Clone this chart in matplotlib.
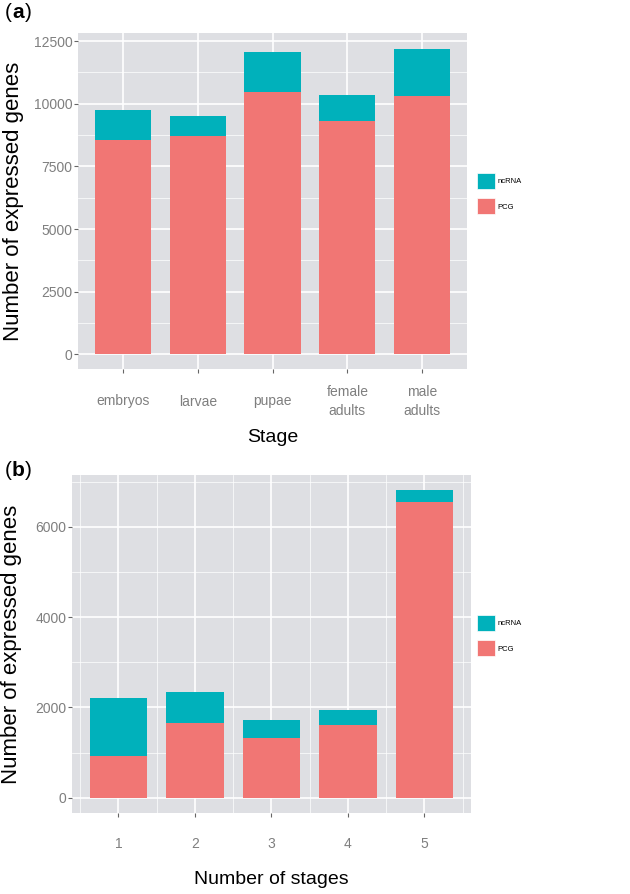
import matplotlib
matplotlib.use('Agg')
import matplotlib.pyplot as plt
import numpy as np

# === Data ===
stages = ['embryos', 'larvae', 'pupae', 'female\nadults', 'male\nadults']
pcg_stage = [8535, 8710, 10460, 9295, 10315]
ncrna_stage = [1220, 800, 1585, 1035, 1850]

n_stages = [1, 2, 3, 4, 5]
pcg_shared = [922, 1645, 1313, 1609, 6546]
ncrna_shared = [1292, 694, 407, 332, 265]

# === Style ===
plt.rcParams['font.family'] = ['Liberation Sans', 'DejaVu Sans']
BG = '#DEDFE3'
TEAL = '#00B1BB'
SALMON = '#F17674'
GREY = '#7f7f7f'
W, H = 630, 894

fig = plt.figure(figsize=(W / 100, H / 100), dpi=100)


def px_axes(l, t, r, b):
    return fig.add_axes([l / W, 1 - b / H, (r - l) / W, (b - t) / H])


def style(ax, yticks, yminor, ylim, xlim, xminor=None):
    ax.set_facecolor(BG)
    for s in ax.spines.values():
        s.set_visible(False)
    ax.set_ylim(*ylim)
    ax.set_xlim(*xlim)
    ax.set_yticks(yticks)
    ax.set_yticks(yminor, minor=True)
    if xminor is not None:
        ax.set_xticks(xminor, minor=True)
    ax.grid(which='major', color='white', linewidth=1.2)
    ax.grid(which='minor', color='white', linewidth=0.5)
    ax.set_axisbelow(True)
    ax.tick_params(which='minor', length=0)
    ax.tick_params(which='major', length=2.9, color='#666666', width=0.8,
                   labelcolor=GREY, labelsize=10)
    ax.tick_params(axis='y', pad=1)


def add_legend(top):
    h = [plt.Rectangle((0, 0), 1, 1, facecolor=TEAL, edgecolor='white', linewidth=0.5),
         plt.Rectangle((0, 0), 1, 1, facecolor=SALMON, edgecolor='white', linewidth=0.5)]
    fig.legend(h, ['ncRNA', 'PCG'], loc='upper left',
               bbox_to_anchor=(477 / W, 1 - top / H), frameon=False,
               fontsize=5.5, handlelength=2.35, handleheight=2.75,
               labelspacing=1.3, handletextpad=0.3, borderpad=0,
               borderaxespad=0)


def panel_tag(letter, y):
    yy = 1 - y / H
    fig.text(5 / W, yy, '(', fontsize=15, va='center', ha='left')
    fig.text(12 / W, yy, letter, fontsize=15, va='center', ha='left', fontweight='bold')
    fig.text(24.5 / W, yy, ')', fontsize=15, va='center', ha='left')


# === Panel (a) ===
ax1 = px_axes(78, 33, 467, 369)
x1 = np.arange(1, len(stages) + 1)
ax1.bar(x1, pcg_stage, width=0.75, color=SALMON)
ax1.bar(x1, ncrna_stage, width=0.75, bottom=pcg_stage, color=TEAL)
style(ax1, [0, 2500, 5000, 7500, 10000, 12500],
      [1250, 3750, 6250, 8750, 11250], (-586, 12821), (0.4, 5.6))
ax1.set_xticks(x1)
ax1.set_xticklabels(stages, va='center', linespacing=1.45)
ax1.tick_params(axis='x', pad=20.5)
ax1.set_xlabel('Stage', fontsize=14)
ax1.xaxis.set_label_coords(0.5, -(437 - 369) / 336, transform=ax1.transAxes)
ax1.xaxis.label.set_va('center')
ax1.set_ylabel('Number of expressed genes', fontsize=16)
ax1.yaxis.set_label_coords(-0.165, 0.5)
ax1.yaxis.label.set_va('center')
add_legend(173)
panel_tag('a', 13)

# === Panel (b) ===
ax2 = px_axes(71.7, 475, 471, 813.3)
ax2.bar(n_stages, pcg_shared, width=0.75, color=SALMON)
ax2.bar(n_stages, ncrna_shared, width=0.75, bottom=pcg_shared, color=TEAL)
style(ax2, [0, 2000, 4000, 6000], [1000, 3000, 5000, 7000],
      (-345, 7144), (0.39, 5.61), xminor=[0.5, 1.5, 2.5, 3.5, 4.5, 5.5])
ax2.set_xticks(n_stages)
ax2.set_xticklabels([str(v) for v in n_stages], va='center')
ax2.tick_params(axis='x', pad=19)
ax2.set_xlabel('Number of stages', fontsize=14)
ax2.xaxis.set_label_coords(0.5, -(880 - 813.3) / 338.3, transform=ax2.transAxes)
ax2.xaxis.label.set_va('center')
ax2.set_ylabel('Number of expressed genes', fontsize=16)
ax2.yaxis.set_label_coords(-0.15, 0.5)
ax2.yaxis.label.set_va('center')
add_legend(615)
panel_tag('b', 470)

fig.savefig('out.png', dpi=100, facecolor='white')
